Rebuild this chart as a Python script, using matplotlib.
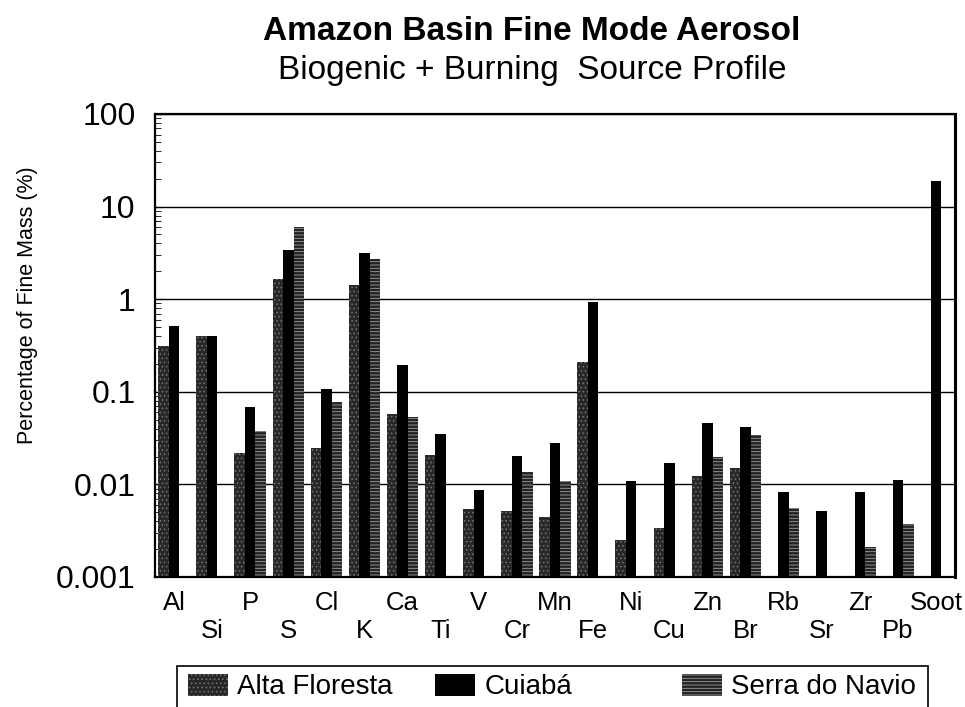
import numpy as np
import matplotlib
matplotlib.use("Agg")
import matplotlib.pyplot as plt
from matplotlib.patches import Patch, Rectangle
from matplotlib.ticker import FixedLocator, LogLocator, NullFormatter

plt.rcParams["font.family"] = ["Liberation Sans", "DejaVu Sans"]
plt.rcParams["hatch.linewidth"] = 0.6

nan = np.nan

ELEMENTS = ["Al", "Si", "P", "S", "Cl", "K", "Ca", "Ti", "V", "Cr", "Mn",
            "Fe", "Ni", "Cu", "Zn", "Br", "Rb", "Sr", "Zr", "Pb", "Soot"]

ALTA_FLORESTA = [0.31, 0.40, 0.022, 1.64, 0.0245, 1.42, 0.057, 0.021, 0.0054,
                 0.0052, 0.0045, 0.21, 0.0025, 0.0034, 0.0122, 0.015,
                 nan, nan, nan, nan, nan]
CUIABA = [0.51, 0.40, 0.069, 3.36, 0.106, 3.14, 0.194, 0.035, 0.0086,
          0.0203, 0.028, 0.94, 0.011, 0.017, 0.046, 0.042,
          0.0082, 0.0051, 0.0082, 0.0112, 18.9]
SERRA_DO_NAVIO = [nan, nan, 0.038, 6.0, 0.077, 2.69, 0.053, nan, nan,
                  0.0135, 0.011, nan, nan, nan, 0.0198, 0.0345,
                  0.0056, nan, 0.0021, 0.0037, nan]

Y_TICKS = [0.001, 0.01, 0.1, 1, 10, 100]
Y_TICK_LABELS = ["0.001", "0.01", "0.1", "1", "10", "100"]

SERIES = [
    ("Alta Floresta", ALTA_FLORESTA, "#282828", "#767676", "...."),
    ("Cuiabá", CUIABA, "#000000", "#000000", None),
    ("Serra do Navio", SERRA_DO_NAVIO, "#242424", "#9c9c9c", "-----"),
]

fig = plt.figure(figsize=(9.65, 7.07), dpi=100)
ax = fig.add_axes([155 / 965, 1 - 577 / 707, 800 / 965, (577 - 114) / 707])
ax.set_yscale("log")

x = np.arange(len(ELEMENTS))
width = 0.276
handles = []
for i, (label, values, face, edge, hatch) in enumerate(SERIES):
    ax.bar(x + (i - 1) * width, values, width=width, color=face,
           edgecolor=edge, hatch=hatch, linewidth=0, zorder=2)
    handles.append(Patch(facecolor=face, edgecolor=edge, hatch=hatch,
                         linewidth=0, label=label))

ax.set_ylim(0.001, 100)
ax.set_xlim(-0.5, len(ELEMENTS) - 0.5)
ax.set_axisbelow(True)
ax.yaxis.grid(True, which="major", color="black", linewidth=1.0)

ax.yaxis.set_major_locator(FixedLocator(Y_TICKS))
ax.set_yticklabels(Y_TICK_LABELS)
ax.yaxis.set_minor_locator(LogLocator(base=10, subs=np.arange(2, 10)))
ax.yaxis.set_minor_formatter(NullFormatter())
ax.tick_params(axis="y", which="major", direction="in", length=6,
               labelsize=23, pad=14)
ax.tick_params(axis="y", which="minor", direction="in", length=4)

ax.set_xticks(x)
ax.set_xticklabels([e if k % 2 == 0 else "\n" + e
                    for k, e in enumerate(ELEMENTS)])
ax.tick_params(axis="x", length=0, labelsize=18.5, pad=10)

for side in ["left", "right", "top", "bottom"]:
    ax.spines[side].set_linewidth(1.6)
ax.spines["right"].set_linewidth(2.2)

ax.set_ylabel("Percentage of Fine Mass (%)", fontsize=15.5)
ax.yaxis.set_label_coords((38 - 155) / 800, (577 - 305) / 463)

fig.text(0.551, 0.955, "Amazon Basin Fine Mode Aerosol", ha="center",
         va="center", fontsize=24, fontweight="bold")
fig.text(0.552, 0.900, "Biogenic + Burning  Source Profile", ha="center",
         va="center", fontsize=24)

# legend: framed strip at the bottom, entries placed on a fixed pitch
fig.add_artist(Rectangle((177 / 965, -0.1), (928 - 177) / 965,
                         0.1 + 1 - 666 / 707, transform=fig.transFigure,
                         facecolor="none", edgecolor="black", linewidth=1.2,
                         clip_on=False))
for handle, x_left in zip(handles, [188, 435, 682]):
    fig.legend(handles=[handle], loc="center left",
               bbox_to_anchor=(x_left / 965, 1 - 687 / 707),
               bbox_transform=fig.transFigure, frameon=False, fontsize=20,
               handlelength=1.45, handleheight=0.85, handletextpad=0.32,
               borderpad=0, borderaxespad=0)

fig.savefig("out.png", dpi=100)
plt.close(fig)
